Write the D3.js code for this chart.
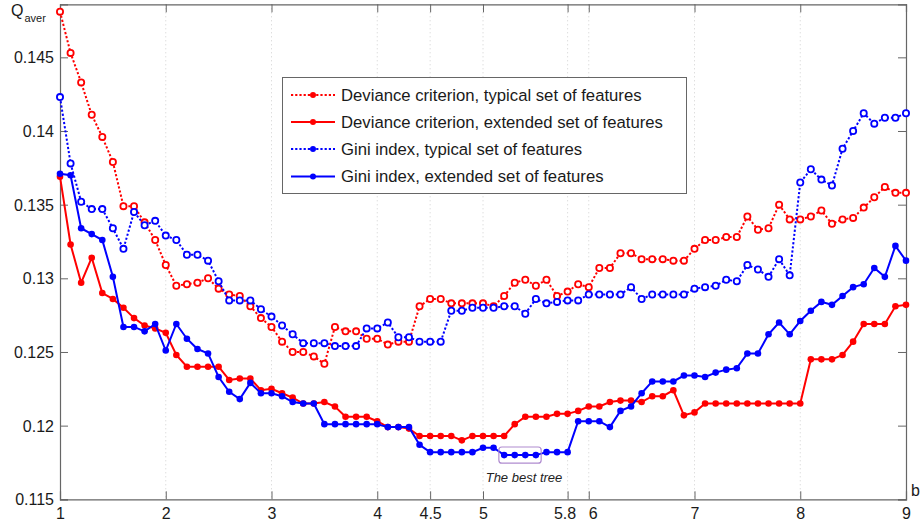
<!DOCTYPE html>
<html>
<head>
<meta charset="utf-8">
<script src="https://cdn.jsdelivr.net/npm/d3@7"></script>
<style>
  html, body { margin: 0; padding: 0; background: #fff; }
  svg { display: block; font-family: "Liberation Sans", Arial, sans-serif; }
</style>
</head>
<body>
<svg id="chart" width="920" height="524"></svg>
<script>
// ---- data ----
const xValues = d3.range(81).map(i => +(1 + i * 0.1).toFixed(1));

const devTypical = [
  0.1481, 0.1453, 0.1433, 0.1411, 0.1396, 0.1379, 0.1349, 0.1349, 0.1338, 0.1326,
  0.1309, 0.1295, 0.1296, 0.1297, 0.1300, 0.1293, 0.1289, 0.1288, 0.1281, 0.1273,
  0.1267, 0.1257, 0.1250, 0.1250, 0.1247, 0.1242, 0.1267, 0.1264, 0.1264, 0.1259,
  0.1259, 0.1255, 0.1257, 0.1257, 0.1281, 0.1286, 0.1286, 0.1283, 0.1283, 0.1283,
  0.1283, 0.1281, 0.1288, 0.1297, 0.1299, 0.1295, 0.1299, 0.1288, 0.1291, 0.1296,
  0.1294, 0.1307, 0.1307, 0.1317, 0.1317, 0.1313, 0.1313, 0.1313, 0.1312, 0.1312,
  0.1320, 0.1326, 0.1326, 0.1328, 0.1328, 0.1342, 0.1333, 0.1334, 0.1350, 0.1340,
  0.1340, 0.1342, 0.1346, 0.1337, 0.1340, 0.1341, 0.1348, 0.1355, 0.1362, 0.1358,
  0.1358
];

const devExtended = [
  0.1369, 0.1323, 0.1297, 0.1314, 0.1290, 0.1286, 0.1280, 0.1273, 0.1268, 0.1266,
  0.1263, 0.1248, 0.1240, 0.1240, 0.1240, 0.1240, 0.1231, 0.1232, 0.1232, 0.1224,
  0.1225, 0.1222, 0.1219, 0.1215, 0.1215, 0.1216, 0.1213, 0.1206, 0.1206, 0.1206,
  0.1203, 0.1199, 0.1199, 0.1198, 0.1193, 0.1193, 0.1193, 0.1193, 0.1190, 0.1193,
  0.1193, 0.1193, 0.1193, 0.1201, 0.1206, 0.1206, 0.1206, 0.1208, 0.1208, 0.1210,
  0.1213, 0.1213, 0.1216, 0.1217, 0.1217, 0.1216, 0.1220, 0.1220, 0.1224, 0.1207,
  0.1209, 0.1215, 0.1215, 0.1215, 0.1215, 0.1215, 0.1215, 0.1215, 0.1215, 0.1215,
  0.1215, 0.1245, 0.1245, 0.1245, 0.1248, 0.1257, 0.1269, 0.1269, 0.1269, 0.1281,
  0.1282
];

const giniTypical = [
  0.1423, 0.1378, 0.1352, 0.1347, 0.1347, 0.1334, 0.1320, 0.1345, 0.1336, 0.1339,
  0.1329, 0.1326, 0.1316, 0.1316, 0.1312, 0.1298, 0.1285, 0.1285, 0.1285, 0.1279,
  0.1274, 0.1268, 0.1262, 0.1256, 0.1256, 0.1256, 0.1254, 0.1254, 0.1254, 0.1266,
  0.1266, 0.1270, 0.1260, 0.1260, 0.1257, 0.1257, 0.1257, 0.1278, 0.1278, 0.1280,
  0.1280, 0.1280, 0.1281, 0.1281, 0.1276, 0.1286, 0.1283, 0.1284, 0.1285, 0.1285,
  0.1289, 0.1289, 0.1289, 0.1289, 0.1294, 0.1286, 0.1289, 0.1289, 0.1289, 0.1289,
  0.1293, 0.1294, 0.1295, 0.1299, 0.1298, 0.1309, 0.1306, 0.1301, 0.1313, 0.1302,
  0.1365, 0.1374, 0.1367, 0.1363, 0.1388, 0.1400, 0.1412, 0.1405, 0.1409, 0.1409,
  0.1412
];

const giniExtended = [
  0.1371, 0.1370, 0.1334, 0.1330, 0.1326, 0.1301, 0.1267, 0.1267, 0.1264, 0.1269,
  0.1251, 0.1269, 0.1259, 0.1252, 0.1249, 0.1233, 0.1223, 0.1218, 0.1229, 0.1222,
  0.1222, 0.1220, 0.1216, 0.1215, 0.1215, 0.1201, 0.1201, 0.1201, 0.1201, 0.1201,
  0.1201, 0.1199, 0.1199, 0.1199, 0.1187, 0.1182, 0.1182, 0.1182, 0.1182, 0.1182,
  0.1185, 0.1185, 0.1180, 0.1180, 0.1180, 0.1180, 0.1182, 0.1182, 0.1182, 0.1203,
  0.1203, 0.1203, 0.1199, 0.1210, 0.1213, 0.1222, 0.1230, 0.1230, 0.1230, 0.1234,
  0.1234, 0.1233, 0.1236, 0.1238, 0.1239, 0.1249, 0.1249, 0.1262, 0.1270, 0.1262,
  0.1271, 0.1278, 0.1284, 0.1282, 0.1288, 0.1294, 0.1296, 0.1307, 0.1301, 0.1322,
  0.1312
];

const seriesNames = [
  "Deviance criterion, typical set of features",
  "Deviance criterion, extended set of features",
  "Gini index, typical set of features",
  "Gini index, extended set of features"
];
const seriesColors = ["#ff0000", "#ff0000", "#0000ff", "#0000ff"];
const seriesDotted = [true, false, true, false];
const seriesValues = [devTypical, devExtended, giniTypical, giniExtended];

const xTicks = [1, 2, 3, 4, 4.5, 5, 5.8, 6, 7, 8, 9];
const yTicks = [0.115, 0.12, 0.125, 0.13, 0.135, 0.14, 0.145];
const yLabels = ["0.115", "0.12", "0.125", "0.13", "0.135", "0.14", "0.145"];
const xDomain = [1, 9];
const yDomain = [0.115, 0.1486];

const bestTreeX = [5.15, 5.55];
const bestTreeY = [0.11745, 0.11855];
const bestTreeLabel = "The best tree";

// ---- layout ----
const svg = d3.select("#chart");
const pLeft = 60, pRight = 906, pTop = 4.3, pBottom = 499.3;
const x = d3.scaleLinear().domain(xDomain).range([pLeft, pRight]);
const y = d3.scaleLinear().domain(yDomain).range([pBottom, pTop]);
const axisColor = "#666";
const textColor = "#1a1a1a";

// vertical grid
svg.append("g").selectAll("line").data(xTicks.slice(1, -1)).join("line")
  .attr("x1", d => x(d)).attr("x2", d => x(d))
  .attr("y1", pTop).attr("y2", pBottom)
  .attr("stroke", "#d0d0d0").attr("stroke-width", 1)
  .attr("stroke-dasharray", "1,3");

// axes (ticks inward)
const tickLen = 8;
const gx = svg.append("g").attr("transform", `translate(0,${pBottom})`)
  .call(d3.axisBottom(x).tickValues(xTicks).tickSize(-tickLen)
    .tickFormat(d3.format("")));
const gxt = svg.append("g").attr("transform", `translate(0,${pTop})`)
  .call(d3.axisTop(x).tickValues(xTicks).tickSize(-tickLen).tickFormat(""));
const gy = svg.append("g").attr("transform", `translate(${pLeft},0)`)
  .call(d3.axisLeft(y).tickValues(yTicks).tickSize(-tickLen)
    .tickFormat((d, i) => yLabels[i]));
const gyr = svg.append("g").attr("transform", `translate(${pRight},0)`)
  .call(d3.axisRight(y).tickValues(yTicks).tickSize(-tickLen).tickFormat(""));
[gx, gxt, gy, gyr].forEach(g => {
  g.select(".domain").attr("stroke", axisColor).attr("stroke-width", 1.2);
  g.selectAll(".tick line").attr("stroke", axisColor).attr("stroke-width", 1);
  g.selectAll("text").attr("fill", textColor)
    .style("font-family", "'Liberation Sans', Arial, sans-serif").style("font-size", "16px");
});
gy.selectAll(".tick text").attr("x", -6).attr("dy", "0.35em").attr("text-anchor", "end");
gx.selectAll(".tick text").attr("y", 19.5).attr("dy", 0).attr("text-anchor", "middle");
gx.selectAll(".tick").filter(d => d === 5.8).select("text").attr("dx", "-3");
gx.selectAll(".tick").filter(d => d === 6).select("text").attr("dx", "4");

// series
const lineGen = d3.line().x((d, i) => x(xValues[i])).y(d => y(d));
seriesValues.forEach((vals, k) => {
  const g = svg.append("g");
  g.append("path").datum(vals)
    .attr("d", lineGen)
    .attr("fill", "none")
    .attr("stroke", seriesColors[k])
    .attr("stroke-width", 2)
    .attr("stroke-dasharray", seriesDotted[k] ? "2.2,2" : null);
  g.selectAll("circle").data(vals).join("circle")
    .attr("cx", (d, i) => x(xValues[i]))
    .attr("cy", d => y(d))
    .attr("r", seriesDotted[k] ? 3.1 : 3.3)
    .attr("fill", seriesDotted[k] ? "#fff" : seriesColors[k])
    .attr("stroke", seriesColors[k])
    .attr("stroke-width", seriesDotted[k] ? 1.8 : 0);
});

// best tree annotation
svg.append("rect")
  .attr("x", x(bestTreeX[0])).attr("y", y(bestTreeY[1]))
  .attr("width", x(bestTreeX[1]) - x(bestTreeX[0]))
  .attr("height", y(bestTreeY[0]) - y(bestTreeY[1]))
  .attr("rx", 3).attr("fill", "none")
  .attr("stroke", "#b08cd0").attr("stroke-width", 1.2);
svg.append("text")
  .attr("x", x((bestTreeX[0] + bestTreeX[1]) / 2) + 4)
  .attr("y", 482)
  .attr("text-anchor", "middle")
  .attr("font-style", "italic")
  .attr("font-size", 13)
  .attr("fill", "#222")
  .text(bestTreeLabel);

// axis labels
const ql = svg.append("text").attr("x", 11).attr("y", 16).attr("fill", textColor)
  .attr("font-size", 16);
ql.append("tspan").text("Q");
ql.append("tspan").attr("font-size", 11).attr("dy", 6).attr("dx", 1).text("aver");
svg.append("text").attr("x", 911).attr("y", 496).attr("fill", textColor)
  .attr("font-size", 16).text("b");

// legend
const lg = svg.append("g");
lg.append("rect").attr("x", 282.5).attr("y", 77.5).attr("width", 404).attr("height", 116)
  .attr("fill", "#fff").attr("stroke", axisColor).attr("stroke-width", 1);
const rowY = [95, 122, 149, 176.5];
seriesNames.forEach((name, k) => {
  const ry = rowY[k];
  lg.append("line").attr("x1", 291).attr("x2", 335).attr("y1", ry).attr("y2", ry)
    .attr("stroke", seriesColors[k]).attr("stroke-width", 2)
    .attr("stroke-dasharray", seriesDotted[k] ? "2.2,2" : null);
  lg.append("circle").attr("cx", 313).attr("cy", ry).attr("r", 3)
    .attr("fill", seriesColors[k]);
  lg.append("text").attr("x", 341).attr("y", ry).attr("dy", "0.35em")
    .attr("font-size", 16.7).attr("fill", textColor).text(name);
});
</script>
</body>
</html>
